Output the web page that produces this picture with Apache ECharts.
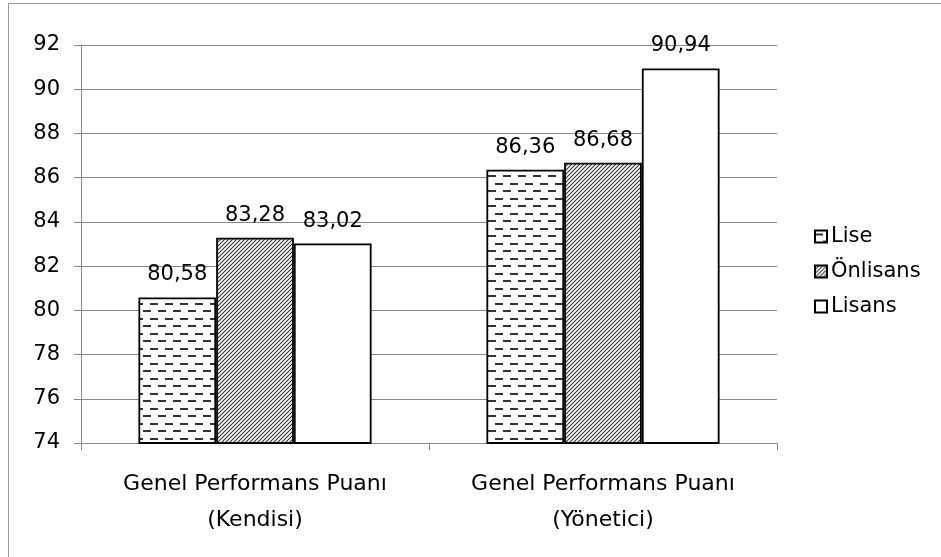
<!DOCTYPE html>
<html>
<head>
<meta charset="utf-8">
<script src="https://cdn.jsdelivr.net/npm/echarts@6/dist/echarts.min.js"></script>
<style>
  html, body { margin: 0; padding: 0; background: #fff; }
  #chart { width: 941px; height: 557px; }
</style>
</head>
<body>
<div id="chart"></div>
<script>
// Categories and values
const categories = ['Genel Performans Puanı\n(Kendisi)', 'Genel Performans Puanı\n(Yönetici)'];
const seriesNames = ['Lise', 'Önlisans', 'Lisans'];
const liseValues = [80.58, 86.36];
const onlisansValues = [83.28, 86.68];
const lisansValues = [83.02, 90.94];
const yTicks = { min: 74, max: 92, interval: 2 };

const FONT = 'DejaVu Sans';

// Horizontal dashed "brick" fill
function dashPattern() {
  const c = document.createElement('canvas');
  c.width = 15; c.height = 15;
  const g = c.getContext('2d');
  g.fillStyle = '#fff'; g.fillRect(0, 0, 15, 15);
  g.fillStyle = '#333';
  g.fillRect(0, 3, 8, 2);
  g.fillRect(8, 10, 7, 2);
  g.fillRect(0, 10, 1, 2);
  return c;
}

// Diagonal hatch fill
function hatchPattern() {
  const s = 4;
  const c = document.createElement('canvas');
  c.width = s; c.height = s;
  const g = c.getContext('2d');
  g.fillStyle = '#fff'; g.fillRect(0, 0, s, s);
  g.strokeStyle = '#333';
  g.lineWidth = 1.1;
  g.beginPath();
  g.moveTo(-1, s + 1); g.lineTo(s + 1, -1);
  g.moveTo(-1, 1); g.lineTo(1, -1);
  g.moveTo(s - 1, s + 1); g.lineTo(s + 1, s - 1);
  g.stroke();
  return c;
}

const fills = [
  { image: dashPattern(), repeat: 'repeat' },
  { image: hatchPattern(), repeat: 'repeat' },
  '#ffffff'
];
const values = [liseValues, onlisansValues, lisansValues];

const chart = echarts.init(document.getElementById('chart'), null, { renderer: 'canvas' });

chart.setOption({
  animation: false,
  backgroundColor: '#fff',
  grid: { left: 81, right: 164, top: 45, bottom: 114 },
  legend: {
    orient: 'vertical',
    left: 809,
    top: 221,
    itemWidth: 12,
    itemHeight: 12,
    itemGap: 14,
    icon: 'rect',
    textStyle: { fontFamily: FONT, fontSize: 21, color: '#000', padding: [0, 0, 0, -1] },
    data: seriesNames
  },
  xAxis: {
    type: 'category',
    data: categories,
    axisLine: { lineStyle: { color: '#888', width: 1 } },
    axisTick: { show: true, length: 7, lineStyle: { color: '#888' } },
    axisLabel: {
      fontFamily: FONT, fontSize: 22, color: '#000',
      lineHeight: 36, margin: 23
    }
  },
  yAxis: {
    type: 'value',
    min: yTicks.min, max: yTicks.max, interval: yTicks.interval,
    axisLine: { show: true, lineStyle: { color: '#888', width: 1 } },
    axisTick: { show: true, length: 7, lineStyle: { color: '#888' } },
    splitLine: { lineStyle: { color: '#888', width: 1 } },
    axisLabel: { fontFamily: FONT, fontSize: 21, color: '#000', margin: 21 }
  },
  series: seriesNames.map((name, i) => ({
    name,
    type: 'bar',
    data: values[i],
    barGap: '0%',
    barCategoryGap: '33%',
    itemStyle: { color: fills[i], borderColor: '#000', borderWidth: 1.8 },
    label: {
      show: true,
      position: 'top',
      distance: 12,
      fontFamily: FONT,
      fontSize: 21,
      color: '#000',
      formatter: p => p.value.toFixed(2).replace('.', ',')
    }
  })),
  graphic: [{
    type: 'polyline',
    shape: { points: [[8.5, 557], [8.5, 3.5], [941, 3.5]] },
    style: { stroke: '#999', lineWidth: 1, fill: null },
    silent: true
  }]
});
</script>
</body>
</html>
